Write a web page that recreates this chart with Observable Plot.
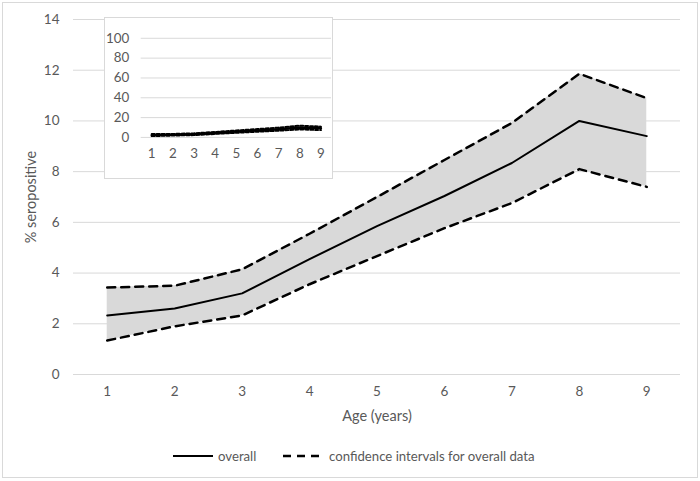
<!DOCTYPE html>
<html>
<head>
<meta charset="utf-8">
<script src="https://cdn.jsdelivr.net/npm/d3@7"></script>
<script src="https://cdn.jsdelivr.net/npm/@observablehq/plot@0.6"></script>
<style>
  body { margin: 0; background: #fff; font-family: Lato, "Open Sans", sans-serif; }
  #wrap { position: relative; width: 700px; height: 481px; overflow: hidden; }
  #frame { position: absolute; left: 2px; top: 2px; width: 696px; height: 476px; border: 1px solid #d9d9d9; box-sizing: border-box; pointer-events: none; }
  #main { position: absolute; left: 0; top: 0; }
  #inset { position: absolute; left: 104px; top: 17px; width: 229px; height: 162px; background: #fff; border: 1px solid #d9d9d9; box-sizing: border-box; }
  #inset svg { position: absolute; left: -1px; top: -1px; }
  #legend { position: absolute; left: 0; top: 446px; width: 700px; height: 20px; font-size: 13.2px; color: #595959; }
  .item { position: absolute; top: 0; display: flex; align-items: center; height: 20px; }
  .item span { margin-left: 5px; }
</style>
</head>
<body>
<div id="wrap">
  <div id="main"></div>
  <div id="inset"></div>
  <div id="legend">
    <div class="item" style="left:173px"><svg width="40" height="20"><line x1="0" x2="40" y1="10" y2="10" stroke="#000" stroke-width="2"/></svg><span>overall</span></div>
    <div class="item" style="left:283px"><svg width="41" height="20"><line x1="0" x2="41" y1="10" y2="10" stroke="#000" stroke-width="2.5" stroke-dasharray="8,6"/></svg><span>confidence intervals for overall data</span></div>
  </div>
  <div id="frame"></div>
</div>
<script>
const ages = [1, 2, 3, 4, 5, 6, 7, 8, 9];
const overall = [2.33, 2.6, 3.2, 4.55, 5.85, 7.04, 8.34, 10.0, 9.4];
const upperCI = [3.43, 3.5, 4.15, 5.55, 7.0, 8.46, 9.92, 11.86, 10.9];
const lowerCI = [1.34, 1.9, 2.33, 3.56, 4.67, 5.77, 6.76, 8.1, 7.4];
const yTicks = [0, 2, 4, 6, 8, 10, 12, 14];
const insetYTicks = [0, 20, 40, 60, 80, 100];

const data = ages.map((a, i) => ({age: a, overall: overall[i], upper: upperCI[i], lower: lowerCI[i]}));
const textColor = "#595959";
const gridColor = "#d9d9d9";
const font = "Lato, 'Open Sans', sans-serif";

const main = Plot.plot({
  width: 700,
  height: 481,
  marginLeft: 73,
  marginRight: 20,
  marginTop: 19,
  marginBottom: 107,
  style: {fontFamily: font, fontSize: "13.5px", color: textColor, background: "transparent", overflow: "visible"},
  x: {domain: [0.5, 9.5]},
  y: {domain: [0, 14]},
  marks: [
    Plot.gridY(yTicks, {stroke: gridColor, strokeOpacity: 1}),
    Plot.areaY(data, {x: "age", y1: "lower", y2: "upper", fill: "#d9d9d9"}),
    Plot.line(data, {x: "age", y: "upper", stroke: "#000", strokeWidth: 2.5, strokeDasharray: "8,6"}),
    Plot.line(data, {x: "age", y: "lower", stroke: "#000", strokeWidth: 2.5, strokeDasharray: "8,6"}),
    Plot.line(data, {x: "age", y: "overall", stroke: "#000", strokeWidth: 2}),
    Plot.axisY(yTicks, {tickSize: 0, tickPadding: 14, fontSize: 13.5, label: null, fill: textColor}),
    Plot.axisY({tickSize: 0, ticks: [], fontSize: 14.5, label: "% seropositive", labelAnchor: "center", labelArrow: "none", labelOffset: 48, fill: textColor}),
    Plot.axisX(ages, {tickSize: 0, tickPadding: 12, fontSize: 13.5, label: null, fill: textColor}),
    Plot.axisX({tickSize: 0, ticks: [], fontSize: 14.5, label: "Age (years)", labelAnchor: "center", labelArrow: "none", labelOffset: 46, fill: textColor})
  ]
});
document.getElementById("main").appendChild(main);

const inset = Plot.plot({
  width: 229,
  height: 162,
  marginLeft: 37,
  marginRight: 0,
  marginTop: 21,
  marginBottom: 41,
  style: {fontFamily: font, fontSize: "13.5px", color: textColor, background: "transparent", overflow: "visible"},
  x: {domain: [0.5, 9.5]},
  y: {domain: [0, 100]},
  marks: [
    Plot.gridY(insetYTicks, {stroke: gridColor, strokeOpacity: 1}),
    Plot.line(data, {x: "age", y: "upper", stroke: "#000", strokeWidth: 2, strokeDasharray: "3,2"}),
    Plot.line(data, {x: "age", y: "lower", stroke: "#000", strokeWidth: 2, strokeDasharray: "3,2"}),
    Plot.line(data, {x: "age", y: "overall", stroke: "#000", strokeWidth: 2.5}),
    Plot.axisY(insetYTicks, {tickSize: 0, tickPadding: 12, fontSize: 13.5, label: null, fill: textColor}),
    Plot.axisX(ages, {tickSize: 0, tickPadding: 11, fontSize: 13.5, label: null, fill: textColor})
  ]
});
document.getElementById("inset").appendChild(inset);
</script>
</body>
</html>
